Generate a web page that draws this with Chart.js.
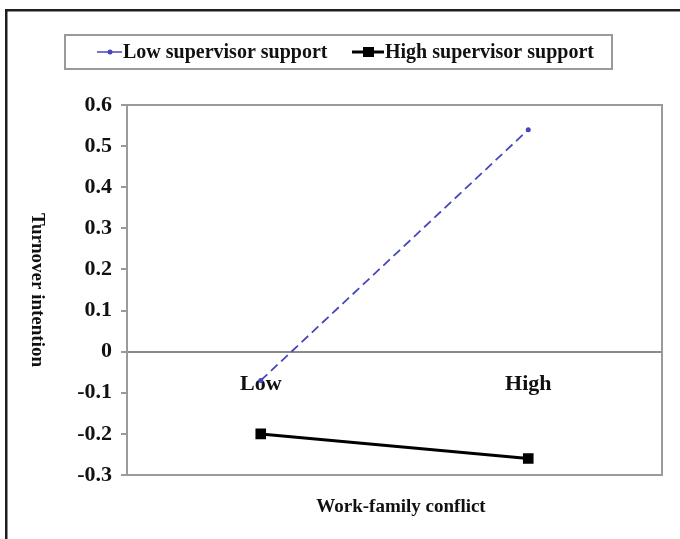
<!DOCTYPE html>
<html>
<head>
<meta charset="utf-8">
<script src="https://cdn.jsdelivr.net/npm/chart.js@4.4.1/dist/chart.umd.min.js"></script>
<style>
  html, body { margin: 0; padding: 0; background: #fff; }
  #wrap { position: relative; width: 680px; height: 539px; }
</style>
</head>
<body>
<div id="wrap"><canvas id="c" width="680" height="539"></canvas></div>
<script>
const categories = ['Low', 'High'];
const lowSupport = [-0.07, 0.54];
const highSupport = [-0.20, -0.26];
const seriesNames = ['Low supervisor support', 'High supervisor support'];
const xTitle = 'Work-family conflict';
const yTitle = 'Turnover intention';
const yMin = -0.3, yMax = 0.6, yStep = 0.1;

const SERIF = '"Liberation Serif", "Times New Roman", serif';
const BLUE = '#4646bd';
const GREY = '#9a9a9a';

const decor = {
  id: 'decor',
  beforeDatasetsDraw(chart) {
    const ctx = chart.ctx, a = chart.chartArea;
    ctx.save();
    ctx.strokeStyle = GREY;
    ctx.lineWidth = 2;
    ctx.strokeRect(a.left, a.top, a.right - a.left, a.bottom - a.top);
    ctx.restore();
  },
  afterDraw(chart) {
    const ctx = chart.ctx;
    ctx.save();
    // outer frame
    ctx.fillStyle = '#1e1e1e';
    ctx.fillRect(5, 9, 675, 2.5);
    ctx.fillRect(5, 9, 2.5, 530);
    // legend box
    ctx.strokeStyle = GREY;
    ctx.lineWidth = 2;
    ctx.strokeRect(65, 35, 547, 34);
    const ly = 52;
    // low series symbol
    ctx.strokeStyle = BLUE; ctx.lineWidth = 1.5;
    ctx.beginPath(); ctx.moveTo(97, ly); ctx.lineTo(122, ly); ctx.stroke();
    ctx.fillStyle = BLUE;
    ctx.beginPath(); ctx.arc(110, ly, 2.5, 0, Math.PI * 2); ctx.fill();
    // high series symbol
    ctx.strokeStyle = '#000'; ctx.lineWidth = 3;
    ctx.beginPath(); ctx.moveTo(352, ly); ctx.lineTo(384, ly); ctx.stroke();
    ctx.fillStyle = '#000';
    ctx.fillRect(363, ly - 5, 11, 10);
    ctx.font = 'bold 20px ' + SERIF;
    ctx.fillStyle = '#111';
    ctx.textBaseline = 'middle';
    ctx.textAlign = 'left';
    ctx.fillText(seriesNames[0], 123, ly + 1);
    ctx.fillText(seriesNames[1], 385, ly + 1);
    // axis titles
    ctx.font = 'bold 19px ' + SERIF;
    ctx.textAlign = 'center';
    ctx.fillText(xTitle, 401, 507);
    ctx.translate(37, 290);
    ctx.rotate(Math.PI / 2);
    ctx.fillText(yTitle, 0, 0);
    ctx.restore();
  }
};

new Chart(document.getElementById('c'), {
  type: 'line',
  data: {
    labels: categories,
    datasets: [
      {
        label: seriesNames[0],
        data: lowSupport,
        borderColor: BLUE,
        backgroundColor: BLUE,
        borderWidth: 1.8,
        borderDash: [9, 5],
        pointStyle: 'circle',
        pointRadius: 2.5,
        pointBorderWidth: 0,
        tension: 0
      },
      {
        label: seriesNames[1],
        data: highSupport,
        borderColor: '#000',
        backgroundColor: '#000',
        borderWidth: 3,
        pointStyle: 'rect',
        pointRadius: 7.5,
        pointBorderWidth: 0,
        tension: 0
      }
    ]
  },
  options: {
    responsive: false,
    animation: false,
    devicePixelRatio: 1,
    layout: { padding: { left: 0, top: 105, right: 18, bottom: 64 } },
    plugins: { legend: { display: false }, tooltip: { enabled: false }, title: { display: false } },
    scales: {
      x: {
        type: 'category',
        offset: true,
        position: { y: 0 },
        grid: { display: false },
        border: { display: false },
        ticks: {
          color: '#111',
          padding: 11,
          font: { family: SERIF, size: 22, weight: 'bold' }
        }
      },
      y: {
        min: yMin,
        max: yMax,
        afterFit(scale) { scale.width = 127; },
        ticks: {
          stepSize: yStep,
          padding: 9,
          color: '#111',
          font: { family: SERIF, size: 22, weight: 'bold' },
          callback: (v) => (Math.abs(v) < 1e-9 ? '0' : (Math.round(v * 10) / 10).toFixed(1))
        },
        grid: {
          lineWidth: 2,
          tickLength: 6,
          tickWidth: 2,
          tickColor: GREY,
          color: (c) => (c.tick && Math.abs(c.tick.value) < 1e-9 ? '#8a8a8a' : 'rgba(0,0,0,0)')
        },
        border: { display: true, color: GREY, width: 2 }
      }
    }
  },
  plugins: [decor]
});
</script>
</body>
</html>
